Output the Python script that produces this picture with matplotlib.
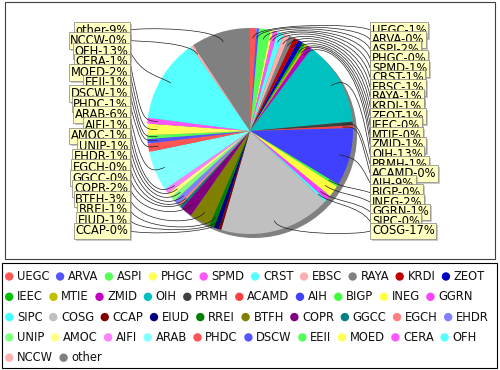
import numpy as np
import matplotlib
matplotlib.use('Agg')
import matplotlib.pyplot as plt
from matplotlib.path import Path
from matplotlib.patches import PathPatch, Circle, Rectangle
from matplotlib.transforms import offset_copy

categories = ["UEGC", "ARVA", "ASPI", "PHGC", "SPMD", "CRST", "EBSC", "RAYA", "KRDI", "ZEOT",
              "IEEC", "MTIE", "ZMID", "OIH", "PRMH", "ACAMD", "AIH", "BIGP", "INEG", "GGRN",
              "SIPC", "COSG", "CCAP", "EIUD", "RREI", "BTFH", "COPR", "GGCC", "EGCH", "EHDR",
              "UNIP", "AMOC", "AIFI", "ARAB", "PHDC", "DSCW", "EEII", "MOED", "CERA", "OFH",
              "NCCW", "other"]
values = [1.0, 0.4, 1.8, 0.4, 0.7, 1.0, 0.9, 0.8, 0.8, 0.8,
          0.4, 0.4, 0.8, 13.3, 0.6, 0.4, 9.1, 0.4, 1.8, 0.8,
          0.4, 17.4, 0.4, 0.8, 0.8, 3.2, 1.8, 0.4, 0.4, 0.8,
          0.8, 0.7, 0.8, 6.3, 1.3, 0.7, 0.6, 1.8, 0.9, 13.2,
          0.4, 9.3]

base_colors = ["#FF5555", "#5555FF", "#55FF55", "#FFFF55", "#FF55FF", "#55FFFF",
               "#FFAFAF", "#808080", "#C00000", "#0000C0", "#00C000", "#C0C000",
               "#C000C0", "#00C0C0", "#404040", "#FF4040", "#4040FF", "#40FF40",
               "#FFFF40", "#FF40FF", "#40FFFF", "#C0C0C0", "#800000", "#000080",
               "#008000", "#808000", "#800080", "#008080", "#FF8080", "#8080FF",
               "#80FF80", "#FFFF80", "#FF80FF", "#80FFFF"]
colors = [base_colors[i % len(base_colors)] for i in range(len(categories))]

W, H = 500, 370
fig = plt.figure(figsize=(5, 3.7), dpi=100)
ax = fig.add_axes([0, 0, 1, 1])

cx, cy_pix, r = 250, 131, 103
cy = H - cy_pix

# shadow
ax.add_patch(Circle((cx + 4, cy - 4), r, fc='#808080', ec='none', zorder=1))
wedges, _ = ax.pie(values, colors=colors, startangle=90, counterclock=False,
                   center=(cx, cy), radius=r, wedgeprops=dict(linewidth=0))
for w in wedges:
    w.set_zorder(2)

total = float(sum(values))
vals = np.array(values)
cum = np.cumsum(vals) - vals / 2
mid = cum / total * 360.0  # clockwise from top

labels = [f"{c}-{int(round(v / total * 100))}%" for c, v in zip(categories, values)]

right = [i for i in range(len(values)) if mid[i] < 180]
left = [i for i in range(len(values)) if mid[i] >= 180][::-1]

re = 1.05 * r
gap = 12
fs_lab = 8.3
pad_px = 0.15 * fs_lab * 100 / 72.0
shadow_tr = offset_copy(ax.transData, fig=fig, x=2, y=-2, units='dots')

def draw_side(idx, side):
    ys = np.linspace(30, 231, len(idx))
    for k, (i, ty) in enumerate(zip(idx, ys)):
        th = np.deg2rad(mid[i])
        dx, dy = np.sin(th), np.cos(th)
        p0 = (cx + 0.9 * r * dx, cy + 0.9 * r * dy)
        p1 = (cx + re * dx, cy + re * dy)
        if side == 'r':
            ax_x = cx + re
            tx = ax_x + gap
        else:
            ax_x = cx - re
            tx = ax_x - gap
        p2 = (ax_x, p1[1])
        p3 = (tx, H - ty)
        path = Path([p0, p1, p2, p3], [Path.MOVETO, Path.CURVE4, Path.CURVE4, Path.CURVE4])
        ax.add_patch(PathPatch(path, fc='none', ec='#202020', lw=0.5, zorder=3))
        ha = 'left' if side == 'r' else 'right'
        xx = tx + pad_px if side == 'r' else tx - pad_px
        z = 10 + k * 2
        ax.text(xx, H - ty, labels[i], ha=ha, va='center', fontsize=fs_lab, color='none',
                transform=shadow_tr, zorder=z,
                bbox=dict(boxstyle='square,pad=0.15', fc=(0.59, 0.59, 0.59, 0.5), ec='none'))
        ax.text(xx, H - ty, labels[i], ha=ha, va='center', fontsize=fs_lab, color='black',
                zorder=z + 1,
                bbox=dict(boxstyle='square,pad=0.15', fc='#FFFFC0', ec='#808080', lw=0.5))

draw_side(right, 'r')
draw_side(left, 'l')

# plot border
ax.add_patch(Rectangle((5, H - 259), 490, 257, fill=False, ec='#404040', lw=0.8, zorder=50))

# legend
ax.add_patch(Rectangle((2, H - 367.5), 495, 105, fill=False, ec='black', lw=0.8, zorder=50))
renderer = fig.canvas.get_renderer()
row_sizes = [10, 10, 10, 10, 2]
fs_leg = 8.3
k = 0
for row, n in enumerate(row_sizes):
    y = H - (276.5 + 20.3 * row)
    x = 5.0
    for j in range(n):
        i = k
        k += 1
        ax.add_patch(Circle((x + 4.2, y), 4.2, fc=colors[i], ec='none', zorder=51))
        t = ax.text(x + 12.0, y, categories[i], ha='left', va='center', fontsize=fs_leg,
                    color='#111111', zorder=51)
        wpx = t.get_window_extent(renderer).width
        x = x + 12.0 + wpx + 6.4

ax.set_xlim(0, W)
ax.set_ylim(0, H)
ax.set_aspect('auto')
ax.axis('off')
fig.savefig('out.png', dpi=100)
